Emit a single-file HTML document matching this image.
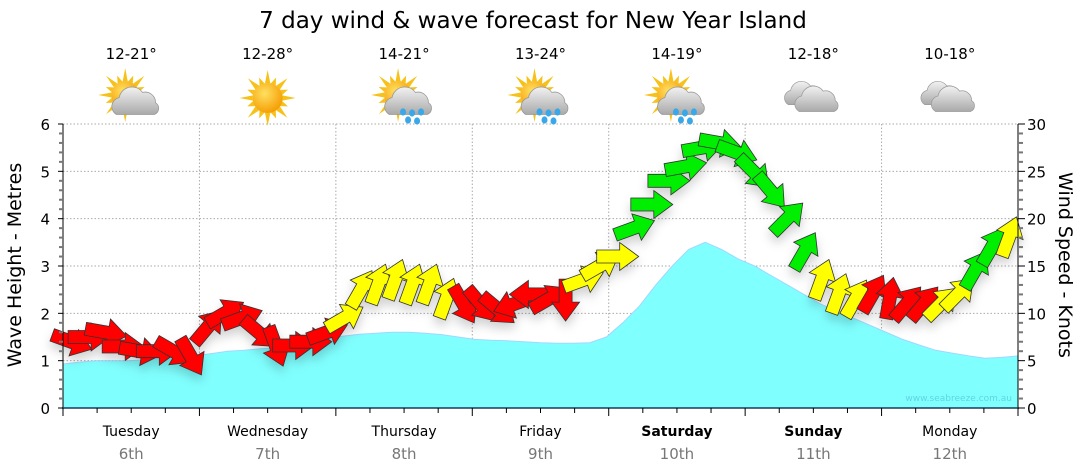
<!DOCTYPE html>
<html><head><meta charset="utf-8">
<style>
body{margin:0;background:#fff;}
svg{display:block;font-family:"DejaVu Sans","Liberation Sans",sans-serif;}
</style></head>
<body>
<svg id="chart" width="1080" height="475" viewBox="0 0 1080 475" xmlns="http://www.w3.org/2000/svg">
<defs>
<radialGradient id="sunG" cx="0.4" cy="0.35" r="0.7"><stop offset="0" stop-color="#ffe060"/><stop offset="1" stop-color="#f59a00"/></radialGradient>
<linearGradient id="cloudG" x1="0" y1="0" x2="0" y2="1"><stop offset="0" stop-color="#f2f2f2"/><stop offset="1" stop-color="#a9a9a9"/></linearGradient>
<filter id="sh" x="-30%" y="-30%" width="160%" height="180%"><feDropShadow dx="0" dy="6" stdDeviation="5" flood-color="#000" flood-opacity="0.18"/></filter>
</defs>
<text x="533" y="28" font-size="23" text-anchor="middle" fill="#000">7 day wind &amp; wave forecast for New Year Island</text>
<g id="grid"></g>
<g id="wave"></g>
<g id="arrows" filter="url(#sh)"></g>
<g id="axes"></g>
<g id="top"></g>
<text x="1012" y="401" font-size="9" text-anchor="end" fill="#5fd6e0">www.seabreeze.com.au</text>
<text transform="translate(21,265) rotate(-90)" font-size="19" text-anchor="middle">Wave Height - Metres</text>
<text transform="translate(1059,265) rotate(90)" font-size="19" text-anchor="middle">Wind Speed - Knots</text>
</svg>
<script>
const days=["Tuesday","Wednesday","Thursday","Friday","Saturday","Sunday","Monday"];
const dates=["6th","7th","8th","9th","10th","11th","12th"];
const boldDays=[false,false,false,false,true,true,false];
const temps=["12-21°","12-28°","14-21°","13-24°","14-19°","12-18°","10-18°"];
const icons=["suncloud","sun","sunrain","sunrain","sunrain","cloud","cloud"];
const waveHeights=[0.93,0.97,1.0,1.0,1.0,1.02,1.05,1.08,1.1,1.15,1.2,1.22,1.25,1.27,1.3,1.35,1.45,1.52,1.56,1.58,1.6,1.6,1.58,1.55,1.5,1.45,1.43,1.42,1.4,1.38,1.37,1.37,1.38,1.5,1.8,2.15,2.6,3.0,3.35,3.5,3.35,3.15,3.0,2.8,2.6,2.4,2.2,2.05,1.9,1.75,1.6,1.45,1.33,1.22,1.16,1.1,1.05,1.07,1.1];
const windSpeeds=[7,7.5,8,6.5,6,6,6,5.5,8.5,10,9.5,8,6.6,6.6,7,8,9.5,12.5,13,13.5,13,13,11.5,11,11,10.5,11,12,11.5,11.5,13.5,15,16,19,21.5,24,25.5,27.5,28,27,25,23,20,16.5,13.5,12,11.5,12,11.5,11,11,11,12,14.5,17,18];
const windDirs=[20,0,10,0,10,0,30,60,-50,-30,-20,40,70,0,0,-20,-30,-60,-70,-70,-70,-70,-70,60,50,40,160,180,-30,90,-20,-30,0,-20,0,0,-10,-10,10,20,45,50,-45,-60,-70,-70,-60,-60,-80,-50,-50,-45,-45,-60,-60,-70];
const windColors=["r","r","r","r","r","r","r","r","r","r","r","r","r","r","r","r","y","y","y","y","y","y","y","r","r","r","r","r","r","r","y","y","y","g","g","g","g","g","g","g","g","g","g","g","y","y","y","r","r","r","r","y","y","g","g","y"];
const leftTicks=[0,1,2,3,4,5,6];
const rightTicks=[0,5,10,15,20,25,30];

const NS="http://www.w3.org/2000/svg";
const X0=63,X1=1018,Y0=408,Y1=124;
const dayW=(X1-X0)/7;
const xDay=d=>X0+d*dayW;
const xWave=i=>X0+i*(X1-X0)/(waveHeights.length-1);
const xWind=i=>X0+8+i*dayW/8;
const yM=v=>Y0-v*(Y0-Y1)/6;
const yK=v=>Y0-v*(Y0-Y1)/30;
const col={r:"#ff0000",y:"#ffff00",g:"#00ee00"};
function mk(tag,attrs,parent){const e=document.createElementNS(NS,tag);for(const k in attrs)e.setAttribute(k,attrs[k]);parent.appendChild(e);return e;}
const G=id=>document.getElementById(id);

const grid=G("grid");
for(let m=1;m<=6;m++){const l=mk("line",{x1:X0,x2:X1,y1:yM(m),y2:yM(m),stroke:"#aaa","stroke-dasharray":"1.5,2"},grid);

}
for(let d=1;d<7;d++){const l=mk("line",{x1:xDay(d),x2:xDay(d),y1:Y1,y2:Y0,stroke:"#aaa","stroke-dasharray":"1.5,2"},grid);

}

let p=`M${X0},${Y0}`;
waveHeights.forEach((v,i)=>{p+=` L${xWave(i).toFixed(1)},${yM(v).toFixed(1)}`;});
p+=` L${X1},${Y0} Z`;
const wa=mk("path",{d:p,fill:"#80ffff",stroke:"#9fd8ff","stroke-width":1},G("wave"));



const ag=G("arrows");
windSpeeds.forEach((v,i)=>{
  const cx=xWind(i),cy=yK(v);
  const a=mk("polygon",{points:"-20,-6.5 3,-6.5 3,-14 22,0 3,14 3,6.5 -20,6.5",fill:col[windColors[i]],stroke:"#333","stroke-width":0.8,
    transform:`translate(${cx.toFixed(1)},${cy.toFixed(1)}) rotate(${windDirs[i]})`},ag);
  
  
});

const ax=G("axes");
let l=mk("line",{x1:X0,x2:X0,y1:Y1,y2:Y0,stroke:"#000"},ax);


l=mk("line",{x1:X1,x2:X1,y1:Y1,y2:Y0,stroke:"#000"},ax);


l=mk("line",{x1:X0-1,x2:X1+1,y1:Y0,y2:Y0,stroke:"#1a3a5a","stroke-width":1.5},ax);


for(let k=0;k<=30;k++){const v=k/5;const t=mk("line",{x1:X0-(k%5?4:5),x2:X0,y1:yM(v),y2:yM(v),stroke:k%5?"#777":"#000","stroke-width":k%5?2:1},ax);

}
for(let k=0;k<=30;k++){const t=mk("line",{x1:X1,x2:X1+(k%5?5:7),y1:yK(k),y2:yK(k),stroke:k%5?"#777":"#000","stroke-width":k%5?2:1},ax);

}
leftTicks.forEach(v=>{const t=mk("text",{x:50,y:yM(v)+6,"font-size":15,"text-anchor":"end"},ax);t.textContent=v;

});
rightTicks.forEach(v=>{const t=mk("text",{x:1027,y:yK(v)+6,"font-size":15},ax);t.textContent=v;

});
for(let q=0;q<=28;q++){const x=X0+q*dayW/4;const t=mk("line",{x1:x,x2:x,y1:Y0,y2:Y0+(q%4?5:8),stroke:"#000"},ax);

}
days.forEach((d,i)=>{const cx=xDay(i)+dayW/2;
  const t=mk("text",{x:cx,y:436,"font-size":14,"text-anchor":"middle","font-weight":boldDays[i]?"bold":"normal"},ax);t.textContent=d;
  
  
  const t2=mk("text",{x:cx,y:459,"font-size":15,"text-anchor":"middle",fill:"#777"},ax);t2.textContent=dates[i];
  
  
});

const tp=G("top");
function sun(g,x,y,r){for(let k=0;k<16;k++){const a=k*Math.PI/8;const L=k%2?r+7:r+13;
  mk("polygon",{points:`${x+Math.cos(a)*L},${y+Math.sin(a)*L} ${x+Math.cos(a+0.18)*r},${y+Math.sin(a+0.18)*r} ${x+Math.cos(a-0.18)*r},${y+Math.sin(a-0.18)*r}`,fill:"#f6c21a"},g);}
  mk("circle",{cx:x,cy:y,r:r,fill:"url(#sunG)"},g);}
function cloud(g,x,y,s){mk("path",{d:`M${x-14*s},${y+8*s} a7 7 0 0 1 2,-13 a10 10 0 0 1 18,-4 a8 8 0 0 1 10,8 a5 5 0 0 1 -1,9 Z`,fill:"url(#cloudG)",stroke:"#999","stroke-width":0.6,transform:`translate(${x},${y}) scale(${s}) translate(${-x},${-y})`},g);}
function drops(g,x,y){[[-9,0],[0,1],[9,0],[-4,8],[5,9]].forEach(d=>mk("ellipse",{cx:x+d[0],cy:y+d[1],rx:3,ry:3.6,fill:"#3aa7e8"},g));}
temps.forEach((t,i)=>{const cx=xDay(i)+dayW/2;
  const tx=mk("text",{x:cx,y:59,"font-size":15,"text-anchor":"middle"},tp);tx.textContent=t;
  
  
  const g=mk("g",{},tp);
  
  
  const ic=icons[i];
  if(ic==="sun"){sun(g,cx,98,15);}
  else if(ic==="cloud"){cloud(g,cx-8,95,1.1);cloud(g,cx+6,100,1.2);}
  else{sun(g,cx-6,95,14);cloud(g,cx+9,101,1.3);if(ic==="sunrain")drops(g,cx+8,112);}
});
</script>
</body></html>
